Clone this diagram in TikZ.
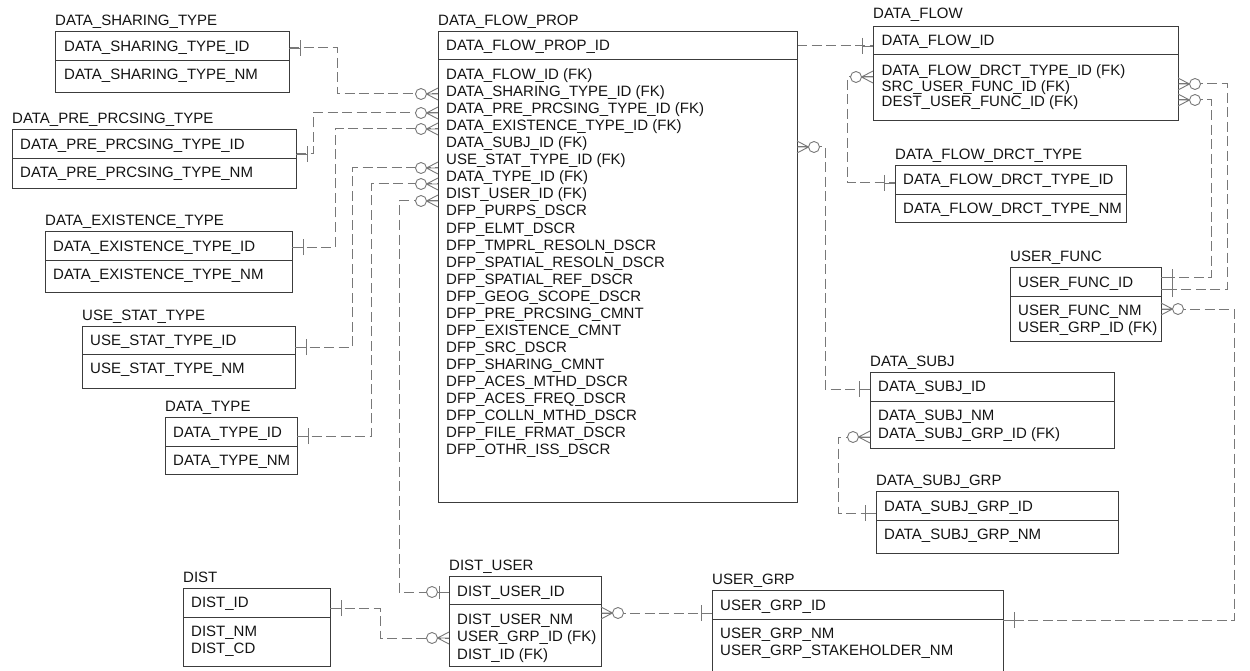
\documentclass[tikz,border=0pt]{standalone}
\usepackage{fontspec}
\setmainfont{Liberation Sans}
\definecolor{boxc}{RGB}{60,60,60}
\definecolor{connc}{RGB}{120,120,120}
\definecolor{txtc}{RGB}{20,20,20}
\newcommand\erbox[8]{%
  \node[ttl] (#1-t) at (#2,#7+5.3) {#8};
  \node[ebox,minimum width={(#4-#2)*1pt},minimum height={(#5-#3)*1pt}] (#1) at (#2,#3) {};
  \draw[divl] (#1.west |- 0,#6) -- (#1.east |- 0,#6);
}
\newcommand\erow[4]{\node[rowt] (#1) at (#2,#3+5.3) {#4};}
\begin{document}
\begin{tikzpicture}[x=1pt,y=-1pt,
  ebox/.style={draw=boxc,line width=0.9pt,rectangle,anchor=north west,inner sep=0pt,outer sep=0pt},
  ttl/.style={anchor=base west,inner sep=0pt,text=txtc,font=\fontsize{15}{17}\selectfont},
  rowt/.style={ttl},
  divl/.style={draw=boxc,line width=0.9pt},
  conn/.style={draw=connc,line width=1pt,dash pattern=on 10pt off 4.5pt},
  mk/.style={draw=connc,line width=0.9pt,solid},
  zmany/.pic={\draw[mk] (-11.5,0) -- (0,6) (-11.5,0) -- (0,-6) (-11.5,0) -- (0,0);
              \draw[mk,fill=white] (-17,0) circle (5.5pt);},
  onemk/.pic={\draw[mk] (-11,-8) -- (-11,8) (-11,0) -- (0,0);},
  zone/.pic={\draw[mk] (-10,-6.5) -- (-10,6.5) (-11,0) -- (0,0);
             \draw[mk,fill=white] (-17,0) circle (5.5pt);}
]
\clip (0,0) rectangle (1250,671);
\fill[white] (0,0) rectangle (1250,671);

% ---------- connectors (drawn first) ----------
\draw[conn] (289,48) -| (337,94) -- (438,94);
\draw[conn] (296,154) -| (313,113) -- (438,113);
\draw[conn] (292,247) -| (335,129) -- (438,129);
\draw[conn] (295,347) -| (352,168) -- (438,168);
\draw[conn] (297,436) -| (371,184) -- (438,184);
\draw[conn] (438,201) -| (399,592) -- (449,592);
\draw[conn] (330,608) -| (380,638) -- (449,638);
\draw[conn] (601,613) -- (712,613);
\draw[conn] (797,46) -- (873,46);
\draw[conn] (873,77) -| (847,183) -- (895,183);
\draw[conn] (797,147) -| (825,389) -- (870,389);
\draw[conn] (870,437) -| (838,513) -- (876,513);
\draw[conn] (1178,84) -| (1227,289) -- (1161,289);
\draw[conn] (1178,100) -| (1211,277) -- (1161,277);
\draw[conn] (1161,309) -| (1234,620) -- (1003,620);

% ---------- entities ----------
\erbox{dst}{55}{31}{289}{92.7}{60}{20}{DATA\_SHARING\_TYPE}
\erow{dst-1}{64}{46}{DATA\_SHARING\_TYPE\_ID}
\erow{dst-2}{64}{74}{DATA\_SHARING\_TYPE\_NM}

\erbox{dpp}{12}{129}{296}{188.3}{158.3}{118}{DATA\_PRE\_PRCSING\_TYPE}
\erow{dpp-1}{20}{144.3}{DATA\_PRE\_PRCSING\_TYPE\_ID}
\erow{dpp-2}{20}{172.3}{DATA\_PRE\_PRCSING\_TYPE\_NM}

\erbox{det}{45}{231}{292}{292}{260}{220}{DATA\_EXISTENCE\_TYPE}
\erow{det-1}{53}{246}{DATA\_EXISTENCE\_TYPE\_ID}
\erow{det-2}{53}{274}{DATA\_EXISTENCE\_TYPE\_NM}

\erbox{ust}{82}{326}{295}{388}{354}{315}{USE\_STAT\_TYPE}
\erow{ust-1}{90}{340}{USE\_STAT\_TYPE\_ID}
\erow{ust-2}{90}{368}{USE\_STAT\_TYPE\_NM}

\erbox{dty}{165}{417}{297}{474}{446}{406}{DATA\_TYPE}
\begin{scope}
\clip (dty.south west) rectangle (dty.north east);
\erow{dty-1}{173}{432}{DATA\_TYPE\_ID}
\erow{dty-2}{173}{460}{DATA\_TYPE\_NM}
\end{scope}

\erbox{dfp}{438}{31}{797}{502}{59}{20}{DATA\_FLOW\_PROP}
\erow{dfp-0}{446}{45.7}{DATA\_FLOW\_PROP\_ID}
\foreach \t [count=\i] in {DATA\_FLOW\_ID (FK),DATA\_SHARING\_TYPE\_ID (FK),DATA\_PRE\_PRCSING\_TYPE\_ID (FK),DATA\_EXISTENCE\_TYPE\_ID (FK),DATA\_SUBJ\_ID (FK),USE\_STAT\_TYPE\_ID (FK),DATA\_TYPE\_ID (FK),DIST\_USER\_ID (FK),DFP\_PURPS\_DSCR,DFP\_ELMT\_DSCR,DFP\_TMPRL\_RESOLN\_DSCR,DFP\_SPATIAL\_RESOLN\_DSCR,DFP\_SPATIAL\_REF\_DSCR,DFP\_GEOG\_SCOPE\_DSCR,DFP\_PRE\_PRCSING\_CMNT,DFP\_EXISTENCE\_CMNT,DFP\_SRC\_DSCR,DFP\_SHARING\_CMNT,DFP\_ACES\_MTHD\_DSCR,DFP\_ACES\_FREQ\_DSCR,DFP\_COLLN\_MTHD\_DSCR,DFP\_FILE\_FRMAT\_DSCR,DFP\_OTHR\_ISS\_DSCR}
  {\node[rowt] (dfp-r\i) at (446,62.55+\i*17.05) {\t};}

\erbox{dfl}{873}{26}{1178}{120}{54}{13.3}{DATA\_FLOW}
\erow{dfl-1}{881.5}{40.7}{DATA\_FLOW\_ID}
\erow{dfl-2}{881.5}{70}{DATA\_FLOW\_DRCT\_TYPE\_ID (FK)}
\erow{dfl-3}{881.5}{86}{SRC\_USER\_FUNC\_ID (FK)}
\erow{dfl-4}{881.5}{101.7}{DEST\_USER\_FUNC\_ID (FK)}

\erbox{dfd}{895}{165}{1126}{222}{194}{154}{DATA\_FLOW\_DRCT\_TYPE}
\begin{scope}
\clip (dfd.south west) rectangle (dfd.north east);
\erow{dfd-1}{903}{179}{DATA\_FLOW\_DRCT\_TYPE\_ID}
\erow{dfd-2}{903}{208}{DATA\_FLOW\_DRCT\_TYPE\_NM}
\end{scope}

\erbox{ufn}{1010}{267}{1161}{341}{296}{256}{USER\_FUNC}
\begin{scope}
\clip (ufn.south west) rectangle (ufn.north east);
\erow{ufn-1}{1018}{282}{USER\_FUNC\_ID}
\erow{ufn-2}{1018}{310}{USER\_FUNC\_NM}
\erow{ufn-3}{1018}{327}{USER\_GRP\_ID (FK)}
\end{scope}

\erbox{dsj}{870}{372}{1114}{448}{401}{361}{DATA\_SUBJ}
\erow{dsj-1}{878}{386}{DATA\_SUBJ\_ID}
\erow{dsj-2}{878}{415}{DATA\_SUBJ\_NM}
\erow{dsj-3}{878}{433}{DATA\_SUBJ\_GRP\_ID (FK)}

\erbox{dsg}{876}{491}{1118}{553}{520}{480}{DATA\_SUBJ\_GRP}
\erow{dsg-1}{884}{506}{DATA\_SUBJ\_GRP\_ID}
\erow{dsg-2}{884}{534}{DATA\_SUBJ\_GRP\_NM}

\erbox{dis}{183}{588}{330}{666}{617}{577}{DIST}
\erow{dis-1}{191}{602}{DIST\_ID}
\erow{dis-2}{191}{631}{DIST\_NM}
\erow{dis-3}{191}{648}{DIST\_CD}

\erbox{dus}{449}{576}{601}{666}{604}{565}{DIST\_USER}
\begin{scope}
\clip (dus.south west) rectangle (dus.north east);
\erow{dus-1}{457}{591}{DIST\_USER\_ID}
\erow{dus-2}{457}{619}{DIST\_USER\_NM}
\erow{dus-3}{457}{636}{USER\_GRP\_ID (FK)}
\erow{dus-4}{457}{654}{DIST\_ID (FK)}
\end{scope}

\erbox{ugr}{712}{590.7}{1003}{690}{619}{579}{USER\_GRP}
\erow{ugr-1}{720}{605}{USER\_GRP\_ID}
\erow{ugr-2}{720}{633}{USER\_GRP\_NM}
\erow{ugr-3}{720}{650}{USER\_GRP\_STAKEHOLDER\_NM}

% ---------- cardinality marks ----------
\pic[rotate=180] at (dst.east |- 0,48) {onemk};
\pic[rotate=180] at (dpp.east |- 0,154) {onemk};
\pic[rotate=180] at (det.east |- 0,247) {onemk};
\pic[rotate=180] at (ust.east |- 0,347) {onemk};
\pic[rotate=180] at (dty.east |- 0,436) {onemk};
\pic at (dfp.west |- 0,94) {zmany};
\pic at (dfp.west |- 0,113) {zmany};
\pic at (dfp.west |- 0,129) {zmany};
\pic at (dfp.west |- 0,168) {zmany};
\pic at (dfp.west |- 0,184) {zmany};
\pic at (dfp.west |- 0,201) {zmany};
\pic at (dus.west |- 0,592) {zone};
\pic[rotate=180] at (dis.east |- 0,608) {onemk};
\pic at (dus.west |- 0,638) {zmany};
\pic[rotate=180] at (dus.east |- 0,613) {zmany};
\pic at (ugr.west |- 0,613) {onemk};
\pic at (dfl.west |- 0,46) {onemk};
\pic at (dfl.west |- 0,77) {zmany};
\pic at (dfd.west |- 0,183) {onemk};
\pic[rotate=180] at (dfp.east |- 0,147) {zmany};
\pic at (dsj.west |- 0,389) {onemk};
\pic at (dsj.west |- 0,437) {zmany};
\pic at (dsg.west |- 0,513) {onemk};
\pic[rotate=180] at (dfl.east |- 0,84) {zmany};
\pic[rotate=180] at (dfl.east |- 0,100) {zmany};
\pic[rotate=180] at (ufn.east |- 0,289) {onemk};
\pic[rotate=180] at (ufn.east |- 0,277) {onemk};
\pic[rotate=180] at (ufn.east |- 0,309) {zmany};
\pic[rotate=180] at (ugr.east |- 0,620) {onemk};
\end{tikzpicture}
\end{document}
